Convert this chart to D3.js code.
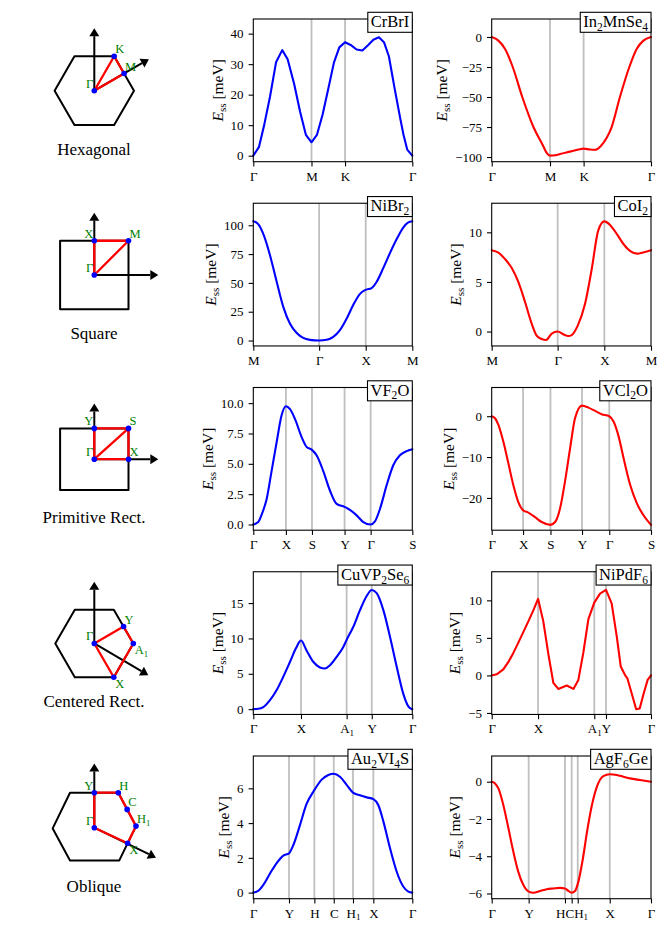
<!DOCTYPE html>
<html><head><meta charset="utf-8">
<script src="https://cdn.jsdelivr.net/npm/d3@7"></script>
<style>body{margin:0;background:#fff} svg text{font-family:"Liberation Serif","DejaVu Serif",serif;}</style>
</head><body>
<svg id="c" width="672" height="936" font-family="'Liberation Serif','DejaVu Serif',serif"></svg>
<script>
// ---------------- DATA ----------------
// path fractions (x) and energies E_ss in meV (y)
const crbri = [[0,0],[0.036,2.9],[0.067,9.7],[0.105,19.3],[0.143,30.6],[0.182,34.6],[0.216,31.6],[0.257,23.5],[0.294,14.5],[0.331,6.8],[0.366,4.4],[0.400,6.8],[0.436,13.5],[0.472,22],[0.507,30.5],[0.541,35.5],[0.577,37.2],[0.612,36.3],[0.650,34.8],[0.686,34.5],[0.723,36.3],[0.755,38],[0.790,38.8],[0.822,37.2],[0.853,32.5],[0.889,22],[0.925,12],[0.945,6.8],[0.968,2],[1,0]];
const in2mnse4 = [[0,0],[0.042,-3],[0.084,-10],[0.132,-25],[0.192,-50],[0.262,-75],[0.320,-90],[0.345,-96.5],[0.366,-98.8],[0.40,-98.5],[0.429,-97.5],[0.492,-95.5],[0.554,-93.5],[0.577,-93],[0.617,-93.8],[0.649,-94],[0.684,-91],[0.722,-84],[0.753,-75],[0.805,-50],[0.864,-25],[0.910,-10],[0.952,-3],[1,0]];
const nibr2 = [[0,103.5],[0.031,101],[0.067,91],[0.105,74],[0.147,51],[0.189,29],[0.231,14.5],[0.273,6.5],[0.314,2.3],[0.356,0.6],[0.414,0],[0.461,0.6],[0.503,3.2],[0.545,9],[0.587,19],[0.629,31],[0.671,40.5],[0.707,44],[0.744,45.5],[0.776,51],[0.818,63],[0.860,76],[0.902,88],[0.943,98],[0.975,102.5],[1,103.5]];
const coi2 = [[0,8.2],[0.042,7.95],[0.084,7.3],[0.126,6.4],[0.167,5.0],[0.209,3.0],[0.251,0.8],[0.282,-0.4],[0.314,-0.75],[0.341,-0.85],[0.377,-0.2],[0.414,0],[0.452,-0.3],[0.481,-0.45],[0.502,-0.35],[0.540,0.6],[0.586,2.8],[0.628,6.3],[0.669,10.2],[0.707,11.1],[0.745,10.7],[0.787,9.8],[0.828,8.8],[0.870,8.1],[0.912,7.85],[0.956,8.0],[1,8.2]];
const vf2o = [[0,0],[0.031,0.2],[0.052,0.8],[0.084,2.1],[0.115,4.4],[0.147,6.8],[0.178,9.0],[0.205,9.75],[0.231,9.5],[0.262,8.7],[0.304,7.2],[0.335,6.4],[0.369,6.15],[0.398,5.7],[0.440,4.4],[0.482,2.8],[0.524,1.7],[0.574,1.45],[0.608,1.2],[0.650,0.75],[0.692,0.2],[0.738,0],[0.765,0.25],[0.797,1.3],[0.839,3.25],[0.881,4.9],[0.922,5.7],[0.964,6.05],[1,6.2]];
const vcl2o = [[0,0],[0.021,-0.5],[0.042,-2.1],[0.073,-6.2],[0.105,-11.6],[0.136,-16.9],[0.167,-21],[0.197,-23],[0.230,-23.6],[0.272,-24.7],[0.314,-25.9],[0.369,-26.6],[0.398,-25.9],[0.429,-22.6],[0.460,-16],[0.492,-7.9],[0.523,-0.5],[0.567,2.6],[0.607,2.1],[0.649,1.3],[0.690,0.5],[0.738,0],[0.765,-1.3],[0.797,-5],[0.828,-10.3],[0.870,-16.9],[0.912,-21.4],[0.954,-24.3],[1,-26.6]];
const cuvp2se6 = [[0,0],[0.031,0.05],[0.063,0.3],[0.105,1.27],[0.147,2.7],[0.189,4.6],[0.231,6.7],[0.268,8.6],[0.300,9.7],[0.335,8.3],[0.377,6.7],[0.419,5.9],[0.451,5.75],[0.482,6.2],[0.524,7.4],[0.566,8.8],[0.587,9.8],[0.629,11.65],[0.671,14],[0.713,16],[0.745,16.85],[0.776,16.4],[0.818,14],[0.860,10.2],[0.902,6],[0.943,2.2],[0.975,0.4],[1,0]];
const nipdf6 = [[0,0],[0.031,0.15],[0.073,0.8],[0.105,1.8],[0.136,3.0],[0.168,4.4],[0.199,5.8],[0.230,7.2],[0.262,8.7],[0.291,10.2],[0.324,7.2],[0.356,2.8],[0.387,-1.0],[0.418,-1.8],[0.471,-1.35],[0.513,-1.8],[0.544,-0.6],[0.575,3],[0.607,7.5],[0.644,9.7],[0.680,10.9],[0.7175,11.4],[0.753,9.6],[0.785,5.2],[0.810,1.2],[0.837,0.05],[0.852,-0.4],[0.879,-2.4],[0.907,-4.5],[0.929,-4.4],[0.954,-2.4],[0.979,-0.6],[1,0]];
const au2vi4s = [[0,0],[0.031,0.1],[0.063,0.44],[0.105,1.1],[0.147,1.7],[0.189,2.13],[0.2245,2.26],[0.252,2.74],[0.294,3.9],[0.335,5.1],[0.384,5.9],[0.430,6.5],[0.472,6.77],[0.506,6.84],[0.545,6.67],[0.587,6.2],[0.627,5.75],[0.671,5.6],[0.713,5.48],[0.755,5.38],[0.786,5.04],[0.818,4.1],[0.860,2.55],[0.902,1.2],[0.943,0.35],[0.975,0.06],[1,0]];
const agf6ge = [[0,0],[0.021,-0.09],[0.042,-0.36],[0.073,-1.25],[0.105,-2.5],[0.136,-3.76],[0.167,-4.84],[0.199,-5.55],[0.232,-5.9],[0.262,-5.96],[0.303,-5.87],[0.345,-5.77],[0.387,-5.73],[0.429,-5.7],[0.460,-5.73],[0.481,-5.86],[0.502,-5.96],[0.523,-5.87],[0.540,-5.5],[0.571,-4.2],[0.600,-2.6],[0.628,-1.3],[0.659,-0.3],[0.701,0.3],[0.741,0.4],[0.785,0.36],[0.826,0.27],[0.868,0.18],[0.931,0.09],[1,0]];

// high-symmetry path tick labels and positions
const hexLabels = ["Γ","M","K","Γ"];
const hexPos = [0,0.366,0.577,1];
const sqLabels = ["M","Γ","X","M"];
const sqPos = [0,0.414,0.707,1];
const prLabels = ["Γ","X","S","Y","Γ","S"];
const prPosL = [0,0.205,0.369,0.574,0.738,1];
const prPosR = [0,0.197,0.369,0.567,0.738,1];
const crLabels = ["Γ","X","A_1","Y","Γ"];
const crPosL = [0,0.300,0.587,0.745,1];
const crPosR = [0,0.291,0.644,0.7175,1];
const obLabels = ["Γ","Y","H","C","H_1","X","Γ"];
const obPosL = [0,0.2245,0.384,0.506,0.627,0.755,1];
const obPosR = [0,0.232,0.460,0.502,0.540,0.741,1];

// y ticks
const ytCrBrI = [0,10,20,30,40];
const ytIn2MnSe4 = [-100,-75,-50,-25,0];
const ytNiBr2 = [0,25,50,75,100];
const ytCoI2 = [0,5,10];
const ytVF2O = [0,2.5,5,7.5,10];
const ytVCl2O = [-20,-10,0];
const ytCuVP2Se6 = [0,5,10,15];
const ytNiPdF6 = [-5,0,5,10];
const ytAu2VI4S = [0,2,4,6];
const ytAgF6Ge = [-6,-4,-2,0];

const latticeNames = ["Hexagonal","Square","Primitive Rect.","Centered Rect.","Oblique"];

// ---------------- LAYOUT / STYLE ----------------
const svg = d3.select("#c");
const rowTop0 = 19, rowStep = 184.25, plotH = 142.7;
const colX = [[253.3,412.3],[491.7,651]];
const BLUE = "#0000ff", RED = "#ff0000";
const packHC = ["m","m","end","pack","pack","m","m"];

const panels = [
 {row:0,col:0,name:"CrBrI",data:crbri,pos:hexPos,lab:hexLabels,ydom:[-1.97,44.8],yt:ytCrBrI,fmt:"d",color:BLUE,lin:true},
 {row:0,col:1,name:"In_2MnSe_4",data:in2mnse4,pos:hexPos,lab:hexLabels,ydom:[-103.9,15],yt:ytIn2MnSe4,fmt:"d",color:RED},
 {row:1,col:0,name:"NiBr_2",data:nibr2,pos:sqPos,lab:sqLabels,ydom:[-4.7,119.1],yt:ytNiBr2,fmt:"d",color:BLUE},
 {row:1,col:1,name:"CoI_2",data:coi2,pos:sqPos,lab:sqLabels,ydom:[-1.45,12.93],yt:ytCoI2,fmt:"d",color:RED},
 {row:2,col:0,name:"VF_2O",data:vf2o,pos:prPosL,lab:prLabels,ydom:[-0.47,11.29],yt:ytVF2O,fmt:".1f",color:BLUE},
 {row:2,col:1,name:"VCl_2O",data:vcl2o,pos:prPosR,lab:prLabels,ydom:[-27.9,7.03],yt:ytVCl2O,fmt:"d",color:RED},
 {row:3,col:0,name:"CuVP_2Se_6",data:cuvp2se6,pos:crPosL,lab:crLabels,ydom:[-0.75,19.43],yt:ytCuVP2Se6,fmt:"d",color:BLUE},
 {row:3,col:1,name:"NiPdF_6",data:nipdf6,pos:crPosR,lab:crLabels,ydom:[-5.2,13.81],yt:ytNiPdF6,fmt:"d",color:RED,lin:true},
 {row:4,col:0,name:"Au_2VI_4S",data:au2vi4s,pos:obPosL,lab:obLabels,ydom:[-0.35,7.86],yt:ytAu2VI4S,fmt:"d",color:BLUE},
 {row:4,col:1,name:"AgF_6Ge",data:agf6ge,pos:obPosR,lab:obLabels,ydom:[-6.28,1.38],yt:ytAgF6Ge,fmt:"d",color:RED,anchors:packHC}
];

function rich(sel, str, size){
  sel.text(null);
  const parts=[]; let i=0;
  while(i<str.length){
    if(str[i]==="_"){parts.push({t:str[i+1],sub:true}); i+=2;}
    else {let j=i; while(j<str.length && str[j]!=="_") j++; parts.push({t:str.slice(i,j),sub:false}); i=j;}
  }
  let shifted=false;
  parts.forEach(p=>{
    const ts=sel.append("tspan").text(p.t);
    if(p.sub){ts.attr("font-size",size*0.7); if(!shifted) ts.attr("dy",size*0.22); shifted=true;}
    else {ts.attr("font-size",size); if(shifted) ts.attr("dy",-size*0.22); shifted=false;}
  });
}

panels.forEach(p=>{
  const top=rowTop0+p.row*rowStep, bot=top+plotH;
  const [x0,x1]=colX[p.col];
  const x=d3.scaleLinear().domain([0,1]).range([x0,x1]);
  const y=d3.scaleLinear().domain(p.ydom).range([bot,top]);
  const g=svg.append("g");
  g.selectAll("line.hs").data(p.pos.slice(1,-1)).join("line").attr("class","hs")
    .attr("x1",d=>x(d)).attr("x2",d=>x(d)).attr("y1",top).attr("y2",bot)
    .attr("stroke","#bfbfbf").attr("stroke-width",1.8);
  const line=d3.line().x(d=>x(d[0])).y(d=>y(d[1])).curve(p.lin?d3.curveLinear:d3.curveMonotoneX);
  g.append("path").datum(p.data).attr("d",line).attr("fill","none").attr("stroke",p.color)
    .attr("stroke-width",2.1).attr("stroke-linejoin","round").attr("stroke-linecap","round");
  const xa=g.append("g").attr("transform",`translate(0,${bot})`)
    .call(d3.axisBottom(x).tickValues(p.pos).tickSize(4.7).tickPadding(5).tickFormat(""));
  xa.attr("font-family",null).attr("font-size",13);
  xa.select(".domain").remove();
  xa.selectAll(".tick line").attr("stroke-width",1.1);
  const texts=xa.selectAll(".tick text").nodes();
  texts.forEach((node,i)=>rich(d3.select(node),p.lab[i],13));
  if(p.anchors){
    let prevRight=null;
    texts.forEach((node,i)=>{
      const a=p.anchors[i];
      const tx=x(p.pos[i]);
      if(a==="end"){d3.select(node).attr("text-anchor","end").attr("x",0);}
      else if(a==="pack"){d3.select(node).attr("text-anchor","start").attr("x",prevRight-tx);}
      const b=node.getBBox();
      prevRight=tx+b.x+b.width;
    });
  }
  const ya=g.append("g").attr("transform",`translate(${x0},0)`)
    .call(d3.axisLeft(y).tickValues(p.yt).tickSize(4.7).tickPadding(5).tickFormat(d3.format(p.fmt)));
  ya.attr("font-family",null).attr("font-size",13);
  ya.select(".domain").remove();
  ya.selectAll(".tick line").attr("stroke-width",1.1);
  g.append("rect").attr("x",x0).attr("y",top).attr("width",x1-x0).attr("height",plotH)
    .attr("fill","none").attr("stroke","#000").attr("stroke-width",1.1);
  // y label
  const bb=ya.node().getBBox();
  const lx=x0+bb.x-8;
  const t=g.append("text").attr("transform",`translate(${lx},${(top+bot)/2}) rotate(-90)`)
    .attr("text-anchor","middle").attr("font-size",15.5);
  t.append("tspan").attr("font-style","italic").text("E");
  t.append("tspan").attr("font-size",11).attr("dy",3.3).text("ss");
  t.append("tspan").attr("dy",-3.3).text("\u00a0[meV]");
  // title box
  const tt=g.append("text").attr("x",x1-3).attr("y",top+8.2).attr("text-anchor","end");
  rich(tt,p.name,16.5);
  const tb=tt.node().getBBox();
  g.insert("rect",()=>tt.node()).attr("x",tb.x-3).attr("y",top-6.7).attr("width",x1-(tb.x-3)).attr("height",20)
    .attr("fill","#fff").attr("stroke","#000").attr("stroke-width",1.1);
});

// ---------------- Brillouin-zone sketches ----------------
const hexR=39.7, hexH=34.4;
const shapes=[
 {poly:[[hexR,0],[hexR/2,-hexH],[-hexR/2,-hexH],[-hexR,0],[-hexR/2,hexH],[hexR/2,hexH]],
  arrows:[[0,-62.5],[54.6,-31.5]],
  pts:[["Γ",0,0,"nw"],["K",hexR/2,-hexH,"ne"],["M",hexR*0.75,-hexH/2,"ne"]],
  path:["Γ","M","K","Γ"]},
 {poly:[[-34.2,-34.2],[34.2,-34.2],[34.2,34.2],[-34.2,34.2]],
  arrows:[[0,-62.3],[64,0]],
  pts:[["Γ",0,0,"nw"],["X",0,-34.2,"nw"],["M",34.2,-34.2,"ne"]],
  path:["Γ","X","M","Γ"]},
 {poly:[[-34.2,-30.8],[34.2,-30.8],[34.2,30.8],[-34.2,30.8]],
  arrows:[[0,-55.7],[64,0]],
  pts:[["Γ",0,0,"nw"],["X",34.2,0,"ne"],["S",34.2,-30.8,"ne"],["Y",0,-30.8,"nw"]],
  path:["Γ","X","S","Y","Γ","S"]},
 {poly:[[39,0],[19.5,-33.8],[-19.5,-33.8],[-39,0],[-19.5,33.8],[19.5,33.8]],
  arrows:[[0,-61.6],[54,31.7]],
  pts:[["Γ",0,0,"nw"],["X",19.5,33.8,"se"],["A_1",39,0,"se"],["Y",29.25,-16.9,"ne"]],
  path:["Γ","X","A_1","Y","Γ"]},
 {poly:[[41.7,-1.6],[24,-35],[-24.3,-35],[-41.6,0.7],[-24.3,32.7],[25,32.7]],
  arrows:[[0,-64.3],[61.7,30]],
  pts:[["Γ",0,0,"nw"],["Y",0,-35,"nw"],["H",24,-35,"ne"],["C",32.85,-18.3,"ne"],["H_1",41.7,-1.6,"ne"],["X",33.35,15.55,"se"]],
  path:["Γ","Y","H","C","H_1","X","Γ"]}
];

function arrow(g,xa,ya,xb,yb){
  const dx=xb-xa, dy=yb-ya, L=Math.hypot(dx,dy), ux=dx/L, uy=dy/L, hl=8, hw=5;
  const bx=xb-ux*hl, by=yb-uy*hl;
  g.append("line").attr("x1",xa).attr("y1",ya).attr("x2",bx).attr("y2",by).attr("stroke","#000").attr("stroke-width",2);
  g.append("path").attr("d",`M${xb},${yb}L${bx-uy*hw},${by+ux*hw}L${bx+uy*hw},${by-ux*hw}Z`).attr("fill","#000");
}

shapes.forEach((s,r)=>{
  const top=rowTop0+r*rowStep;
  const cx=94.3, cy=top+71.7;
  const g=svg.append("g");
  g.append("path").attr("d",d3.line()(s.poly.map(v=>[cx+v[0],cy+v[1]]))+"Z")
    .attr("fill","none").attr("stroke","#000").attr("stroke-width",2).attr("stroke-linejoin","round");
  s.arrows.forEach(a=>arrow(g,cx,cy,cx+a[0],cy+a[1]));
  const P={}; s.pts.forEach(q=>P[q[0]]=[cx+q[1],cy+q[2]]);
  g.append("path").attr("d",d3.line()(s.path.map(k=>P[k])))
    .attr("fill","none").attr("stroke",RED).attr("stroke-width",2.3).attr("stroke-linejoin","round");
  g.selectAll("circle").data(s.pts).join("circle").attr("cx",q=>cx+q[1]).attr("cy",q=>cy+q[2]).attr("r",2.8).attr("fill",BLUE);
  s.pts.forEach(q=>{
    const px=cx+q[1], py=cy+q[2];
    const t=g.append("text").attr("fill","#008000");
    if(q[3]==="nw") t.attr("x",px-1).attr("y",py-3).attr("text-anchor","end");
    else if(q[3]==="ne") t.attr("x",px+1).attr("y",py-3).attr("text-anchor","start");
    else t.attr("x",px+1.5).attr("y",py+10.5).attr("text-anchor","start");
    rich(t,q[0],12.5);
  });
  g.append("text").attr("x",94).attr("y",top+135.5).attr("text-anchor","middle").attr("font-size",17).text(latticeNames[r]);
});
</script>
</body></html>
